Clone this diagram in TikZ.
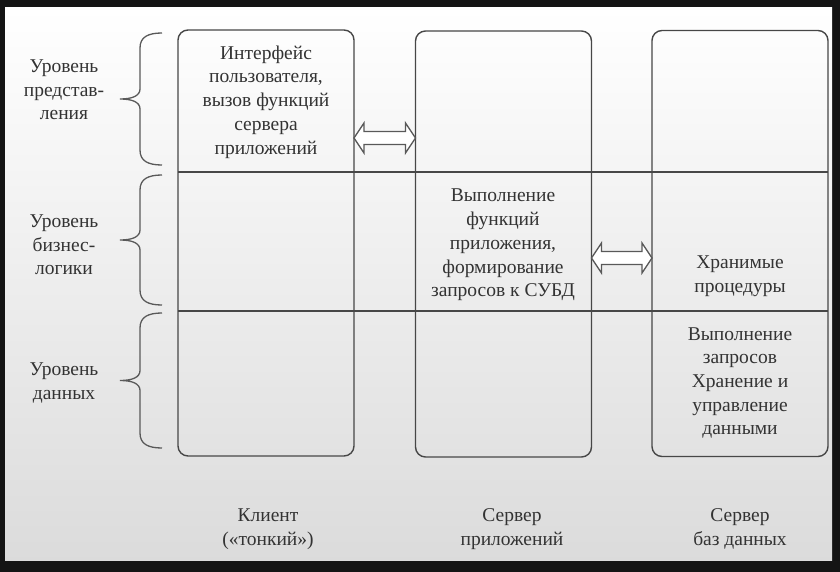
\documentclass[tikz,border=0pt]{standalone}
\usepackage{fontspec}
\setmainfont{Liberation Serif}
\usetikzlibrary{positioning,calc}

\tikzset{
  tierbox/.style={draw=black!72, line width=1.4pt, rounded corners=10pt, minimum width=176pt, minimum height=426pt, outer sep=0pt},
  tiertext/.style={align=center, text=black!80, font=\fontsize{19.5}{23.7}\selectfont, inner sep=0pt},
  levelline/.style={draw=black!72, line width=1.4pt},
  bracepath/.style={draw=black!65, line width=1.3pt},
  hollowarrow/.style={draw=black!65, line width=1.3pt, fill=white, line join=miter}
}

% curly brace from #1 (top) to #2 (bottom), tip to the left
\newcommand\levelbrace[2]{%
  \draw[bracepath] (#1) .. controls +(-14,0) and +(0,-11) .. ($(#1)+(-22,15)$)
    -- ($(#1)!0.5!(#2)+(-22,-10)$) .. controls +(0,7) and +(12,0) .. ($(#1)!0.5!(#2)+(-42,0)$)
    .. controls +(12,0) and +(0,-7) .. ($(#1)!0.5!(#2)+(-22,10)$)
    -- ($(#2)+(-22,-15)$) .. controls +(0,11) and +(-14,0) .. (#2);}

% hollow two-way arrow between #1 (left tip) and #2 (right tip)
\newcommand\twoway[2]{%
  \draw[hollowarrow] (#1) -- ++(10,-15) -- ++(0,8.5) -- ($(#2)+(-10,-6.5)$) -- ++(0,-8.5)
    -- (#2) -- ++(-10,15) -- ++(0,-8.5) -- ($(#1)+(10,6.5)$) -- ++(0,8.5) -- cycle;}

\begin{document}
\begin{tikzpicture}[x=1pt, y=-1pt]
  \useasboundingbox (0,0) rectangle (840,572);
  % screen frame
  \fill[black!92] (0,0) rectangle (840,572);
  \shade[top color=white, middle color=white, bottom color=black!14] (5,8) rectangle (832,560);

  % tiers
  \node[tierbox] (client) at (266,243) {};
  \node[tierbox] (app) at (503.5,244) {};
  \node[tierbox] (db) at (740,243.5) {};

  % level borders
  \coordinate (row1) at (0,172);
  \coordinate (row2) at (0,311);
  \draw[levelline] (client.west |- row1) -- (db.east |- row1);
  \draw[levelline] (client.west |- row2) -- (db.east |- row2);

  % levels
  \coordinate (b1t) at (162,33);
  \coordinate (b1b) at (162,165);
  \coordinate (b2t) at (162,175);
  \coordinate (b2b) at (162,305);
  \coordinate (b3t) at (162,313);
  \coordinate (b3b) at (162,448);
  \levelbrace{b1t}{b1b}
  \levelbrace{b2t}{b2b}
  \levelbrace{b3t}{b3b}
  \node[tiertext] (levelpres) at (64,90) {Уровень\\представ-\\ления};
  \node[tiertext] (levelbiz) at (64,245) {Уровень\\бизнес-\\логики};
  \node[tiertext] (leveldata) at (64,383) {Уровень\\данных};

  % contents
  \node[tiertext] (ui) at (266,102) {Интерфейс\\пользователя,\\вызов функций\\сервера\\приложений};
  \node[tiertext] (logic) at (503,245) {Выполнение\\функций\\приложения,\\формирование\\запросов к СУБД};
  \node[tiertext] (procs) at (740,276) {Хранимые\\процедуры};
  \node[tiertext] (storage) at (740,383) {Выполнение\\запросов\\Хранение и\\управление\\данными};

  % exchange
  \coordinate (arrow1) at (0,138);
  \coordinate (arrow2) at (0,258);
  \coordinate (a1l) at (client.east |- arrow1);
  \coordinate (a1r) at (app.west |- arrow1);
  \coordinate (a2l) at (app.east |- arrow2);
  \coordinate (a2r) at (db.west |- arrow2);
  \twoway{a1l}{a1r}
  \twoway{a2l}{a2r}

  % captions
  \node[tiertext] (clientcap) at (268,529) {Клиент\\(«тонкий»)};
  \node[tiertext] (appcap) at (512,529) {Сервер\\приложений};
  \node[tiertext] (dbcap) at (740,529) {Сервер\\баз данных};
\end{tikzpicture}
\end{document}
